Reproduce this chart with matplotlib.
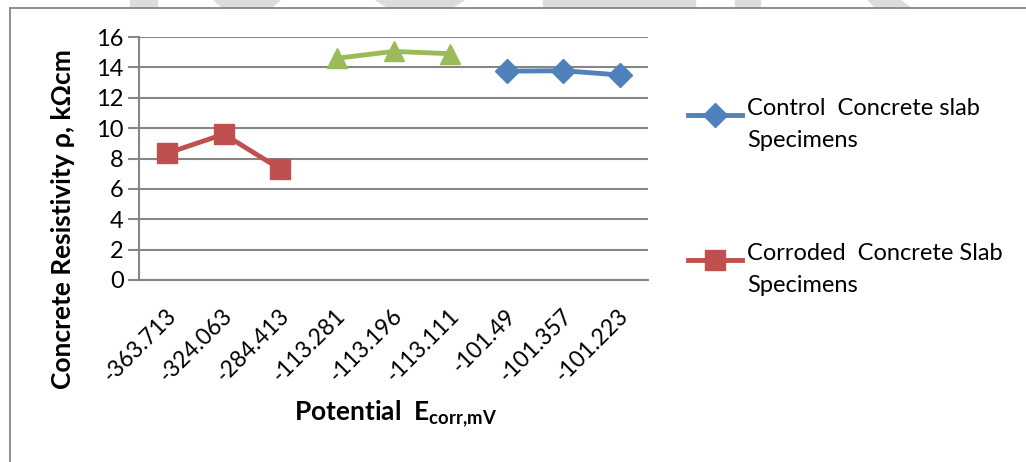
import numpy as np
import matplotlib.pyplot as plt
import matplotlib.transforms as mtransforms
from matplotlib.patches import Rectangle, Polygon, Ellipse
from matplotlib.lines import Line2D

# Potential categories (mV) and resistivity readings (kOhm cm)
potentials = ["-363.713", "-324.063", "-284.413", "-113.281", "-113.196",
              "-113.111", "-101.49", "-101.357", "-101.223"]
corroded = [8.35, 9.6, 7.3]
middle = [14.6, 15.05, 14.9]
control = [13.75, 13.78, 13.5]

plt.rcParams['font.family'] = ['Lato', 'DejaVu Sans']
plt.rcParams['mathtext.fontset'] = 'custom'
plt.rcParams['mathtext.rm'] = 'Lato'
plt.rcParams['mathtext.bf'] = 'Lato:bold'

W, H = 1026, 462
fig = plt.figure(figsize=(W / 100, H / 100), dpi=100)

def px(x, y):
    return (x / W, 1 - y / H)

# faint background shapes along the top edge
wm = '#dcdcdc'
shapes = [
    Rectangle(px(130, 11), 27 / W, 11 / H),
    Ellipse(px(247, -30), 90 / W, 88 / H),
    Ellipse(px(420, -30), 120 / W, 88 / H),
    Rectangle(px(543, 10), 152 / W, 10 / H),
    Rectangle(px(735, 10), 25 / W, 10 / H),
    Polygon([px(868, 0), px(900, 0), px(913, 10), px(878, 10)], closed=True),
]
for s in shapes:
    s.set_transform(fig.transFigure)
    s.set_color(wm)
    s.set_zorder(0)
    fig.add_artist(s)

# chart frame: white area with a gray left and top edge
fig.add_artist(Rectangle(px(11, 470), 1100 / W, 461 / H, transform=fig.transFigure,
                         color='white', zorder=0.5))
fig.add_artist(Line2D([10 / W, 10 / W], [0, 1 - 8 / H], transform=fig.transFigure,
                      color='#868686', lw=1.3, zorder=1))
fig.add_artist(Line2D([10 / W, 1], [1 - 8 / H, 1 - 8 / H], transform=fig.transFigure,
                      color='#868686', lw=1.3, zorder=1))

ax = fig.add_axes([139 / W, 1 - 280 / H, (648 - 139) / W, (280 - 37) / H])
ax.set_zorder(2)
ax.set_facecolor('none')

blue, red, green = '#4f81bd', '#c0504d', '#9bbb59'
x = np.arange(len(potentials))
ax.plot(x[6:9], control, color=blue, lw=3.5, marker='D', ms=12, zorder=3)
ax.plot(x[0:3], corroded, color=red, lw=3.5, marker='s', ms=14, zorder=3)
ax.plot(x[3:6], middle, color=green, lw=3.5, marker='^', ms=14, zorder=3)

ax.set_xlim(-0.5, len(potentials) - 0.5)
ax.set_ylim(0, 16)
ax.set_yticks(np.arange(0, 17, 2))
ax.yaxis.grid(True, color='#868686', lw=1.5)
ax.set_axisbelow(True)
for s in ['top', 'right']:
    ax.spines[s].set_visible(False)
for s in ['left', 'bottom']:
    ax.spines[s].set_color('#868686')
    ax.spines[s].set_linewidth(1.5)
ax.tick_params(axis='y', length=8, width=1.5, color='#868686', labelsize=17, pad=3)
ax.tick_params(axis='x', length=0, labelsize=16.5, pad=18)
ax.set_xticks(x)
ax.set_xticklabels(potentials, rotation=45, ha='right', rotation_mode='anchor')
shift = mtransforms.ScaledTranslation(-2 / 100, 0, fig.dpi_scale_trans)
for lbl in ax.get_xticklabels():
    lbl.set_transform(lbl.get_transform() + shift)

ax.set_ylabel('Concrete Resistivity ρ, kΩcm', fontsize=19, fontweight='bold', va='center')
ax.yaxis.set_label_coords(-0.149, 0.25)
ax.set_xlabel(r'Potential  E$_{\mathbf{corr{,}mV}}$', fontsize=19, fontweight='bold',
              va='baseline')
ax.xaxis.set_label_coords(0.503, -(421 - 280) / 243)

# legend entries: handle on the first text line, label wrapped onto two lines
entries = [(blue, 'D', 12, 'Control  Concrete slab\nSpecimens', 115),
           (red, 's', 14, 'Corroded  Concrete Slab\nSpecimens', 260)]
for col, mk, ms, lab, yy in entries:
    fig.add_artist(Line2D([688 / W, 715 / W, 742 / W], [1 - yy / H] * 3,
                          transform=fig.transFigure, color=col, lw=3.5,
                          marker=mk, ms=ms, markevery=[1], zorder=3))
    fig.text(747 / W, 1 - (yy - 17) / H, lab, fontsize=17, va='top', ha='left',
             linespacing=1.65, zorder=3)

fig.savefig('out.png', dpi=100)
